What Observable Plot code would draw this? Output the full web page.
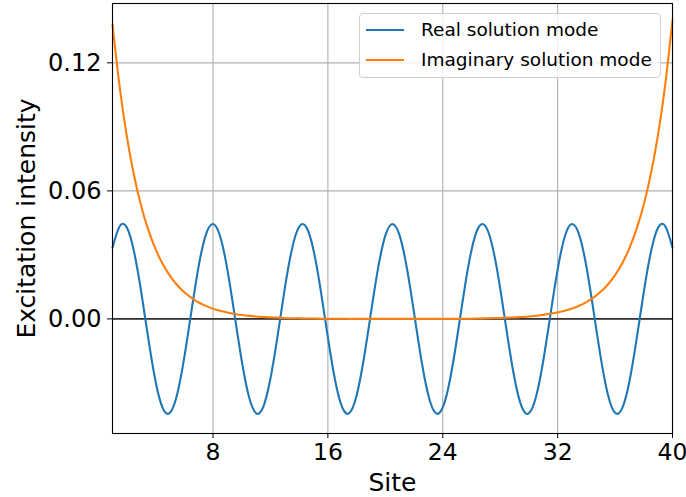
<!DOCTYPE html>
<html>
<head>
<meta charset="utf-8">
<script src="https://cdn.jsdelivr.net/npm/d3@7"></script>
<script src="https://cdn.jsdelivr.net/npm/@observablehq/plot@0.6"></script>
<style>
  html, body { margin: 0; padding: 0; background: #fff; }
  #wrap { position: relative; width: 686px; height: 497px; font-family: "DejaVu Sans", sans-serif; }
  #wrap svg { overflow: visible; }
  #legend { position: absolute; left: 359px; top: 13px; width: 302px; height: 65px; box-sizing: border-box;
    border: 1px solid #d0d0d0; border-radius: 4px; background: rgba(255,255,255,0.8); }
  .sw { position: absolute; left: 6px; width: 38px; height: 2px; }
  .lab { position: absolute; left: 61px; font-size: 18.5px; white-space: nowrap; color: #000; line-height: 1; transform: translateY(-50%); }
</style>
</head>
<body>
<div id="wrap"></div>
<script>
// sampling grid of sites
const sites = d3.range(1, 40.01, 0.5);
// Real solution mode (blue)
const realMode = [
  0.0334, 0.0434, 0.0428, 0.0315, 0.0126, -0.0095, -0.0293, -0.0418, -0.0440, -0.0354,
  -0.0180, 0.0038, 0.0247, 0.0394, 0.0445, 0.0386, 0.0231, 0.0020, -0.0196, -0.0364,
  -0.0442, -0.0412, -0.0279, -0.0078, 0.0143, 0.0328, 0.0432, 0.0430, 0.0322, 0.0134,
  -0.0087, -0.0286, -0.0415, -0.0441, -0.0359, -0.0188, 0.0029, 0.0239, 0.0390, 0.0445,
  0.0390, 0.0239, 0.0029, -0.0188, -0.0359, -0.0441, -0.0415, -0.0286, -0.0087, 0.0134,
  0.0322, 0.0430, 0.0432, 0.0328, 0.0143, -0.0078, -0.0279, -0.0412, -0.0442, -0.0364,
  -0.0196, 0.0020, 0.0231, 0.0386, 0.0445, 0.0394, 0.0247, 0.0038, -0.0180, -0.0354,
  -0.0440, -0.0418, -0.0293, -0.0095, 0.0126, 0.0315, 0.0428, 0.0434, 0.0334
];
// Imaginary solution mode (orange)
const imagMode = [
  0.1380, 0.1086, 0.0854, 0.0672, 0.0528, 0.0416, 0.0327, 0.0257, 0.0202, 0.0159,
  0.0125, 0.0099, 0.0077, 0.0061, 0.0048, 0.0038, 0.0030, 0.0023, 0.0018, 0.0014,
  0.0011, 0.0009, 0.0007, 0.0006, 0.0004, 0.0003, 0.0003, 0.0002, 0.0002, 0.0001,
  0.0001, 0.0001, 0.0001, 0.0000, 0.0000, 0.0000, 0.0000, 0.0000, 0.0000, 0.0000,
  0.0000, 0.0000, 0.0000, 0.0000, 0.0000, 0.0000, 0.0000, 0.0000, 0.0000, 0.0001,
  0.0001, 0.0002, 0.0003, 0.0004, 0.0004, 0.0006, 0.0007, 0.0009, 0.0011, 0.0015,
  0.0019, 0.0024, 0.0030, 0.0038, 0.0049, 0.0062, 0.0079, 0.0100, 0.0127, 0.0161,
  0.0205, 0.0261, 0.0332, 0.0422, 0.0536, 0.0682, 0.0866, 0.1101, 0.1400
];
const xTicks = [8, 16, 24, 32, 40];
const yTicks = [0, 0.06, 0.12];
const seriesNames = ["Real solution mode", "Imaginary solution mode"];
const seriesColors = ["#1f77b4", "#ff7f0e"];
const xLabel = "Site";
const yLabel = "Excitation intensity";

const realData = sites.map((s, i) => ({site: s, value: realMode[i]}));
const imagData = sites.map((s, i) => ({site: s, value: imagMode[i]}));

const chart = Plot.plot({
  width: 686,
  height: 497,
  marginLeft: 112,
  marginRight: 14,
  marginTop: 3,
  marginBottom: 64,
  style: {fontFamily: "DejaVu Sans, sans-serif", background: "white", color: "black"},
  x: {domain: [1, 40]},
  y: {domain: [-0.0537, 0.1478]},
  marks: [
    Plot.gridX(xTicks, {stroke: "#b0b0b0", strokeOpacity: 1, strokeWidth: 1.1}),
    Plot.gridY(yTicks, {stroke: "#b0b0b0", strokeOpacity: 1, strokeWidth: 1.1}),
    Plot.ruleY([0], {stroke: "#333", strokeWidth: 1.6}),
    Plot.line(realData, {x: "site", y: "value", stroke: seriesColors[0], strokeWidth: 2.1, curve: "natural"}),
    Plot.line(imagData, {x: "site", y: "value", stroke: seriesColors[1], strokeWidth: 2.1, curve: "monotone-x"}),
    Plot.frame({stroke: "black", strokeWidth: 1.1}),
    Plot.axisX(xTicks, {tickSize: 5, tickPadding: 5, fontSize: 23.5, label: null}),
    Plot.axisY(yTicks, {tickSize: 5, tickPadding: 6, fontSize: 24, tickFormat: d3.format(".2f"), label: null}),
    Plot.text([xLabel], {frameAnchor: "bottom", lineAnchor: "middle", textAnchor: "middle", dy: 49, fontSize: 25, fill: "black"}),
    Plot.text([yLabel], {frameAnchor: "left", lineAnchor: "middle", textAnchor: "middle", rotate: -90, dx: -86, fontSize: 25, fill: "black"})
  ]
});
const wrap = document.getElementById("wrap");
wrap.appendChild(chart);

const legend = document.createElement("div");
legend.id = "legend";
seriesNames.forEach((name, i) => {
  const cy = i === 0 ? 16 : 46;
  const sw = document.createElement("div");
  sw.className = "sw";
  sw.style.top = (cy - 1) + "px";
  sw.style.background = seriesColors[i];
  const lab = document.createElement("div");
  lab.className = "lab";
  lab.style.top = cy + "px";
  lab.textContent = name;
  legend.appendChild(sw);
  legend.appendChild(lab);
});
wrap.appendChild(legend);
</script>
</body>
</html>
